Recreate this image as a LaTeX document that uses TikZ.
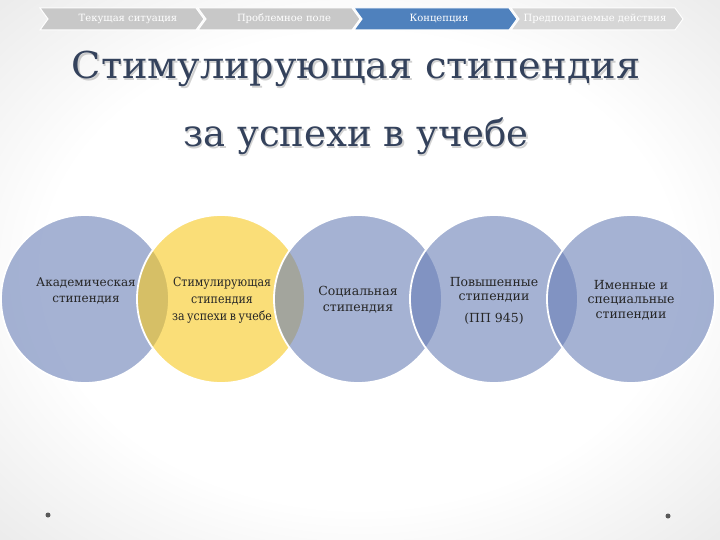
\documentclass[tikz,border=0pt]{standalone}
\usepackage{fontspec}
\setmainfont{DejaVu Serif}
\newfontfamily\condfont[FakeStretch=0.88]{DejaVu Serif}
\newfontfamily\widefont[FakeStretch=1.035]{DejaVu Serif}
\newcommand\mycondsetup{\condfont\fontsize{12.5}{15}\selectfont\spaceskip 2.6pt\relax}
\pgfdeclareradialshading{bgshade}{\pgfpoint{0bp}{0bp}}{color(0bp)=(white); color(22bp)=(white); color(50bp)=(black!16); color(72bp)=(black!24)}
\definecolor{circblue}{RGB}{105,127,183}
\definecolor{circyellow}{RGB}{247,200,30}
\definecolor{titlecol}{RGB}{52,66,92}
\definecolor{chevgray}{RGB}{200,200,200}
\definecolor{chevlight}{RGB}{214,214,214}
\definecolor{chevblue}{RGB}{79,129,189}
\begin{document}
\begin{tikzpicture}[x=1pt,y=-1pt,
  circ/.style={circle, minimum size=168pt, inner sep=0pt, draw=white, line width=1.8pt, fill opacity=0.6, draw opacity=1},
  ctext/.style={anchor=base, font=\fontsize{12.5}{15}\selectfont, text=black!85, inner sep=0pt},
  cctext/.style={anchor=base, font=\mycondsetup, text=black!85, inner sep=0pt},
  chev/.style={draw=white, line width=1pt},
  chevtext/.style={font=\fontsize{10}{12}\selectfont, text=white, inner sep=0pt},
  ttl/.style={anchor=base, font=\fontsize{37}{40}\selectfont, text=titlecol, inner sep=0pt},
  ttlshadow/.style={anchor=base, font=\fontsize{37}{40}\selectfont, text=black, text opacity=0.18, inner sep=0pt},
  dotmark/.style={circle, fill=black!65, minimum size=5pt, inner sep=0pt}]
\path[use as bounding box, shading=bgshade] (0,0) rectangle (720,540);

% breadcrumb chevrons
\draw[chev, fill=chevgray]  (40,8) -- (196,8) -- (204,19) -- (196,30) -- (40,30) -- (48,19) -- cycle;
\draw[chev, fill=chevgray]  (198,8) -- (352,8) -- (360,19) -- (352,30) -- (198,30) -- (206,19) -- cycle;
\draw[chev, fill=chevblue]  (354,8) -- (509,8) -- (517,19) -- (509,30) -- (354,30) -- (362,19) -- cycle;
\draw[chev, fill=chevlight] (511,8) -- (675,8) -- (683,19) -- (675,30) -- (511,30) -- (519,19) -- cycle;
\node[chevtext] (k1) at (128,19) {Текущая ситуация};
\node[chevtext] (k2) at (284,19) {Проблемное поле};
\node[chevtext] (k3) at (439,19) {Концепция};
\node[chevtext] (k4) at (595,19) {Предполагаемые действия};

% title
\node[ttlshadow] (ts1) at (357.5,80.5) {\widefont Стимулирующая стипендия};
\node[ttlshadow] (ts2) at (357.5,148.5) {за успехи в учебе};
\node[ttl] (t1) at (356,79) {\widefont Стимулирующая стипендия};
\node[ttl] (t2) at (356,147) {за успехи в учебе};

% circles
\node[circ, fill=circblue]   (c1) at (85,299) {};
\node[circ, fill=circyellow] (c2) at (221,299) {};
\node[circ, fill=circblue]   (c3) at (358,299) {};
\node[circ, fill=circblue]   (c4) at (494,299) {};
\node[circ, fill=circblue]   (c5) at (631,299) {};

% circle texts
\node[ctext, font=\fontsize{12}{15}\selectfont] (a1) at (86,286) {Академическая};
\node[ctext, font=\fontsize{12}{15}\selectfont] (a2) at (86,302) {стипендия};
\node[cctext] (b1) at (222,286) {Стимулирующая};
\node[cctext] (b2) at (222,303) {стипендия};
\node[cctext] (b3) at (222,320) {за успехи в учебе};
\node[ctext] (s1) at (358,295) {Социальная};
\node[ctext] (s2) at (358,311) {стипендия};
\node[ctext] (p1) at (494,286) {Повышенные};
\node[ctext] (p2) at (494,300) {стипендии};
\node[ctext] (p3) at (494,322) {(ПП 945)};
\node[ctext] (n1) at (631,289) {Именные и};
\node[ctext] (n2) at (631,303) {специальные};
\node[ctext] (n3) at (631,318) {стипендии};

% dots
\node[dotmark] (d1) at (48,515) {};
\node[dotmark] (d2) at (668,516) {};
\end{tikzpicture}
\end{document}
